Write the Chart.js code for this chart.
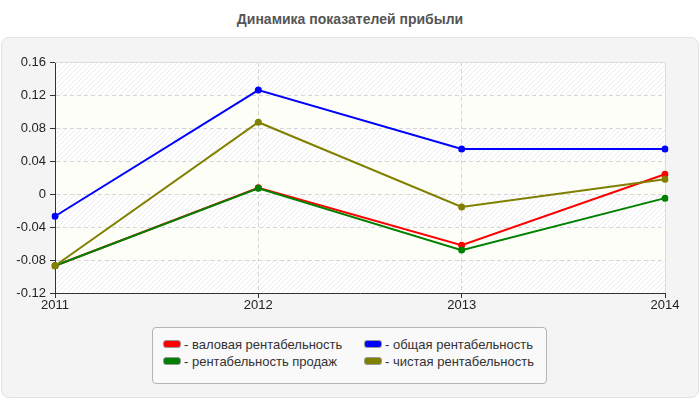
<!DOCTYPE html>
<html>
<head>
<meta charset="utf-8">
<script src="https://cdn.jsdelivr.net/npm/chart.js@4/dist/chart.umd.min.js"></script>
<style>
  html, body { margin: 0; padding: 0; background: #ffffff; }
  #wrap { position: relative; width: 700px; height: 400px; font-family: "Liberation Sans", Arial, sans-serif; }
  #panel { position: absolute; left: 1px; top: 37px; width: 696px; height: 359px; background: #f4f4f4; border: 1px solid #e2e2e2; border-radius: 8px; }
  #title { position: absolute; left: 0; top: 11px; width: 700px; text-align: center; font-weight: bold; font-size: 14px; color: #555; }
  #chart { position: absolute; left: 0; top: 0; }
  #legend { position: absolute; left: 152px; top: 327px; width: 395px; height: 57px; background: #f9f9f9; border: 1px solid #b4b4b4; border-radius: 4px; box-sizing: border-box; }
  .item { position: absolute; font-size: 13px; color: #333; line-height: 15px; white-space: nowrap; }
  .sw { display: inline-block; width: 16px; height: 6px; border: 1px solid #999; border-radius: 3px; margin-right: 3px; vertical-align: 1px; }
</style>
</head>
<body>
<div id="wrap">
  <div id="panel"></div>
  <div id="title">Динамика показателей прибыли</div>
  <canvas id="chart" width="700" height="400"></canvas>
  <div id="legend"></div>
</div>
<script>
const years = ["2011", "2012", "2013", "2014"];
const grossMargin = [-0.087, 0.0075, -0.062, 0.024];
const overallMargin = [-0.027, 0.126, 0.0545, 0.0545];
const salesMargin = [-0.087, 0.007, -0.068, -0.005];
const netMargin = [-0.087, 0.087, -0.0158, 0.018];
const seriesLabels = ["- валовая рентабельность", "- общая рентабельность", "- рентабельность продаж", "- чистая рентабельность"];
const seriesColors = ["#ff0000", "#0000ff", "#008000", "#808000"];
const yMin = -0.12, yMax = 0.16, yStep = 0.04;

const seriesData = [grossMargin, overallMargin, salesMargin, netMargin];
const drawOrder = [3, 2, 1, 0];

const datasets = seriesData.map((d, i) => ({
  label: seriesLabels[i],
  data: d,
  borderColor: seriesColors[i],
  backgroundColor: seriesColors[i],
  borderWidth: 2,
  pointRadius: 3.5,
  pointHoverRadius: 3.5,
  pointBorderWidth: 0,
  tension: 0,
  fill: false,
  order: drawOrder[i]
}));

// hatch pattern
const tile = document.createElement('canvas');
tile.width = 5; tile.height = 5;
const tctx = tile.getContext('2d');
tctx.fillStyle = '#ffffff';
tctx.fillRect(0, 0, 5, 5);
tctx.strokeStyle = '#ebebeb';
tctx.lineWidth = 1;
tctx.beginPath();
tctx.moveTo(-1, 6); tctx.lineTo(6, -1);
tctx.stroke();

const bandsPlugin = {
  id: 'bands',
  beforeDraw(chart) {
    const { ctx, chartArea: a, scales: { y } } = chart;
    const pat = ctx.createPattern(tile, 'repeat');
    ctx.save();
    let idx = 0;
    for (let v = yMax; v > yMin + 1e-9; v -= yStep, idx++) {
      const top = y.getPixelForValue(v);
      const bot = y.getPixelForValue(v - yStep);
      ctx.fillStyle = idx % 2 === 0 ? pat : '#fdfef7';
      ctx.fillRect(a.left, top, a.right - a.left, bot - top);
    }
    ctx.restore();
  },
  beforeDatasetsDraw(chart) {
    const { ctx, chartArea: a } = chart;
    ctx.save();
    ctx.strokeStyle = '#dcdcdc';
    ctx.lineWidth = 1;
    ctx.beginPath();
    ctx.moveTo(a.left, Math.round(a.top) + 0.5);
    ctx.lineTo(Math.round(a.right) + 0.5, Math.round(a.top) + 0.5);
    ctx.lineTo(Math.round(a.right) + 0.5, a.bottom);
    ctx.stroke();
    ctx.restore();
  }
};

const tickFont = { family: '"Liberation Sans", Arial, sans-serif', size: 13 };

new Chart(document.getElementById('chart'), {
  type: 'line',
  data: { labels: years, datasets },
  options: {
    responsive: false,
    animation: false,
    events: [],
    layout: { padding: { top: 62, right: 35, left: 0, bottom: 0 } },
    plugins: { legend: { display: false }, title: { display: false }, tooltip: { enabled: false } },
    scales: {
      x: {
        offset: false,
        afterFit(s) { s.height = 107; },
        grid: {
          offset: false,
          color: (c) => (c.index === 0 || c.index === years.length - 1) ? 'rgba(0,0,0,0)' : '#d6d6d6',
          tickColor: '#333',
          tickLength: 5,
          tickBorderDash: []
        },
        border: { display: true, color: '#333', width: 1, dash: [4, 3] },
        ticks: { color: '#222', font: tickFont, padding: 0, maxRotation: 0 }
      },
      y: {
        min: yMin, max: yMax,
        afterFit(s) { s.width = 55; },
        grid: {
          color: (c) => (c.index === 0 || c.tick && (Math.abs(c.tick.value - yMax) < 1e-9)) ? 'rgba(0,0,0,0)' : '#d6d6d6',
          tickColor: '#333',
          tickLength: 5,
          tickBorderDash: []
        },
        border: { display: true, color: '#333', width: 1, dash: [4, 3] },
        ticks: {
          stepSize: yStep,
          color: '#222',
          font: tickFont,
          padding: 4,
          callback: (v) => String(Number(Number(v).toFixed(2)))
        }
      }
    }
  },
  plugins: [bandsPlugin]
});

// HTML legend built from series arrays
const legend = document.getElementById('legend');
const pos = [[10, 9], [211, 9], [10, 26], [211, 26]];
seriesLabels.forEach((lab, i) => {
  const el = document.createElement('div');
  el.className = 'item';
  el.style.left = pos[i][0] + 'px';
  el.style.top = pos[i][1] + 'px';
  const sw = document.createElement('span');
  sw.className = 'sw';
  sw.style.background = seriesColors[i];
  el.appendChild(sw);
  el.appendChild(document.createTextNode(lab));
  legend.appendChild(el);
});
</script>
</body>
</html>
